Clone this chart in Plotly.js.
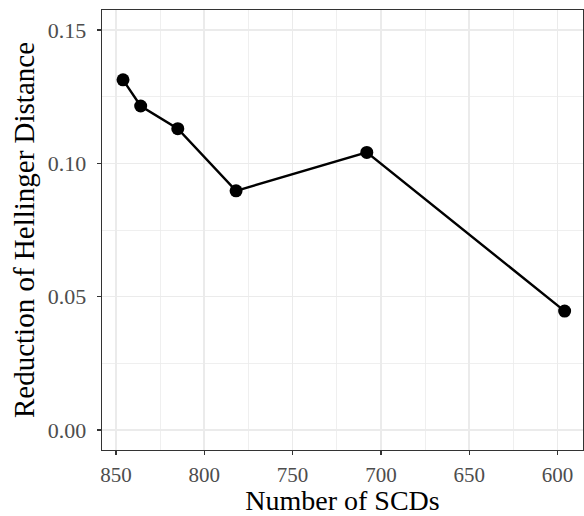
<!DOCTYPE html>
<html><head><meta charset="utf-8">
<script src="https://cdn.plot.ly/plotly-3.0.1.min.js"></script>
<style>html,body{margin:0;padding:0;background:#fff;}#chart{width:584px;height:516px;}</style>
</head><body><div id="chart"></div>
<script>
const numSCDs = [846, 836, 815, 782, 708, 596];
const reduction = [0.1313, 0.1215, 0.1130, 0.0897, 0.1041, 0.0446];
const xTicks = [850, 800, 750, 700, 650, 600];
const yTicks = [0.00, 0.05, 0.10, 0.15];
const yTickText = ["0.00", "0.05", "0.10", "0.15"];

const trace = {
  x: numSCDs, y: reduction, type: 'scatter', mode: 'lines+markers',
  line: {color: '#000', width: 2.4},
  marker: {color: '#000', size: 13},
  cliponaxis: false
};
const fam = 'Liberation Serif, Times New Roman, serif';
const layout = {
  width: 584, height: 516,
  margin: {l: 102, r: 1, t: 10, b: 66},
  paper_bgcolor: '#fff', plot_bgcolor: '#fff',
  showlegend: false,
  font: {family: fam, color: '#4D4D4D'},
  xaxis: {
    range: [857.9, 585.6], autorange: false,
    tickvals: xTicks, ticktext: xTicks.map(String),
    tickfont: {size: 21, color: '#4D4D4D', family: fam},
    ticks: 'outside', ticklen: 4, tickwidth: 1.3, tickcolor: '#333333',
    ticklabelstandoff: 1,
    showline: true, mirror: true, linecolor: '#333333', linewidth: 1.3,
    showgrid: true, gridcolor: '#EBEBEB', gridwidth: 1.6,
    minor: {dtick: 25, tick0: 0, showgrid: true, gridcolor: '#EBEBEB', gridwidth: 0.8, ticks: ''},
    zeroline: false,
    title: {text: 'Number of SCDs', font: {size: 28, color: '#000', family: fam}, standoff: 9}
  },
  yaxis: {
    range: [-0.0075, 0.1575], autorange: false,
    tickvals: yTicks, ticktext: yTickText,
    tickfont: {size: 22, color: '#4D4D4D', family: fam},
    ticks: 'outside', ticklen: 4, tickwidth: 1.3, tickcolor: '#333333',
    ticklabelstandoff: 6,
    showline: true, mirror: true, linecolor: '#333333', linewidth: 1.3,
    showgrid: true, gridcolor: '#EBEBEB', gridwidth: 1.6,
    minor: {dtick: 0.025, tick0: 0, showgrid: true, gridcolor: '#EBEBEB', gridwidth: 0.8, ticks: ''},
    zeroline: false,
    title: {text: 'Reduction of Hellinger Distance', font: {size: 29, color: '#000', family: fam}, standoff: 4}
  }
};
Plotly.newPlot('chart', [trace], layout, {staticPlot: true, displayModeBar: false});
</script></body></html>
